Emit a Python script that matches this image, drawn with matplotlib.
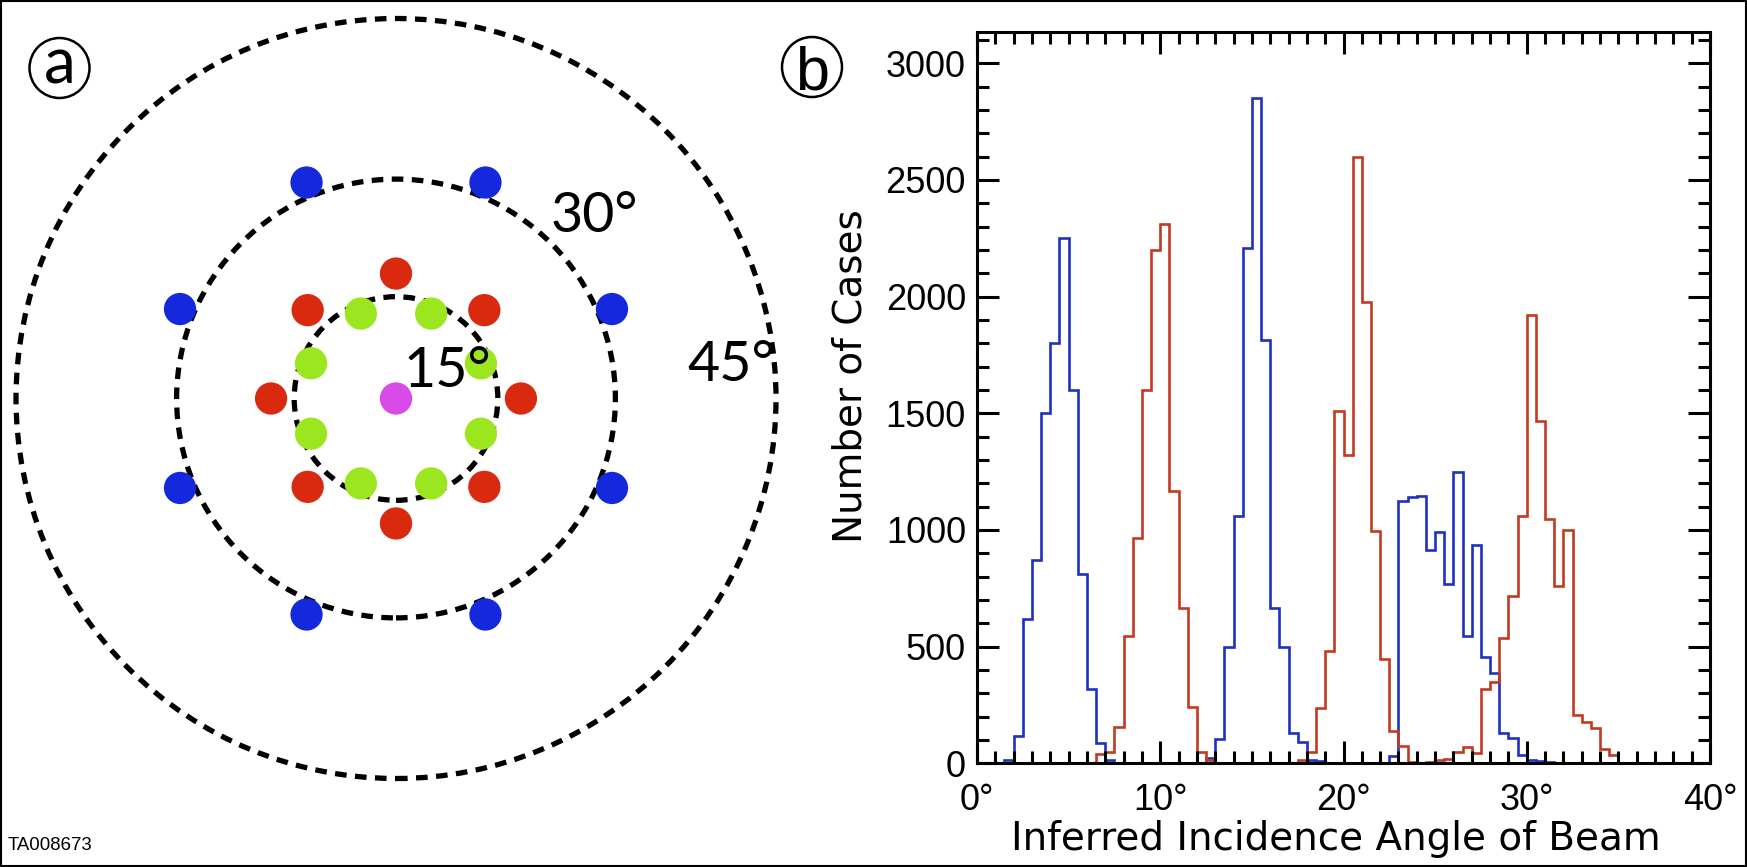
import numpy as np
import matplotlib
matplotlib.use('Agg')
from matplotlib import pyplot as plt
from matplotlib import font_manager
from matplotlib.patches import Circle, Ellipse, Rectangle

# panel b: number of cases per 0.5 deg bin, 0-40 deg
bin_width = 0.5
angle_max = 40
blue_counts = [0, 0, 0, 15, 117, 620, 870, 1500, 1800, 2250,
               1600, 810, 320, 85, 12, 3, 0, 0, 0, 0,
               0, 0, 0, 0, 0, 24, 104, 500, 1060, 2210,
               2850, 1815, 665, 500, 130, 93, 16, 9, 0, 0,
               0, 0, 0, 0, 0, 30, 1125, 1140, 1145, 915,
               990, 770, 1250, 545, 935, 455, 385, 131, 107, 36,
               14, 10, 6, 3, 3, 3, 3, 3, 3, 3,
               0, 0, 0, 0, 0, 0, 0, 0, 0, 0]
red_counts = [0, 0, 0, 0, 0, 0, 0, 0, 0, 0,
              0, 0, 0, 40, 50, 157, 545, 965, 1600, 2200,
              2310, 1165, 665, 240, 50, 12, 0, 0, 0, 0,
              0, 0, 0, 0, 0, 16, 50, 236, 480, 1510,
              1320, 2600, 1975, 995, 445, 140, 75, 5, 3, 7,
              12, 17, 50, 70, 45, 320, 350, 535, 715, 1060,
              1920, 1465, 1045, 760, 1000, 205, 175, 150, 60, 35,
              0, 0, 0, 0, 0, 0, 0, 0, 0, 0]
x_ticks = [0, 10, 20, 30, 40]
x_tick_labels = ['0°', '10°', '20°', '30°', '40°']
y_ticks = [0, 500, 1000, 1500, 2000, 2500, 3000]

# panel a: beam layout, radius = tan(zenith angle)
ring_angles = [15, 30, 45]
ring_labels = ['15°', '30°', '45°']
beam_zenith = [0, 13.6, 18.2, 31.6]
beam_azimuth0 = [0, 22.5, 0, 22.5]
beam_number = [1, 8, 8, 8]
beam_colors = ['#d94ae8', '#9be61e', '#d92a10', '#1428dc']

names = {f.name for f in font_manager.fontManager.ttflist}
narrow = 'Liberation Sans Narrow' if 'Liberation Sans Narrow' in names else 'Liberation Sans'

fig = plt.figure(figsize=(17.47, 8.67), dpi=100)
W, H = 1747.0, 867.0

# ---- panel b: histogram
ax = fig.add_axes([977 / W, (H - 763.3) / H, 733 / W, 731.6 / H])
edges = np.arange(0, angle_max + bin_width / 2, bin_width)
ax.stairs(blue_counts, edges, color='#2030c0', lw=1.9, baseline=0)
ax.stairs(red_counts, edges, color='#c23a22', lw=1.9, baseline=0)
ax.set_xlim(0, angle_max)
ax.set_ylim(0, 3135)
ax.set_xticks(x_ticks)
ax.set_xticklabels(x_tick_labels)
ax.set_xticks(np.arange(0, angle_max + 1, 1), minor=True)
ax.set_yticks(y_ticks)
ax.set_yticks(np.arange(0, 3101, 100), minor=True)
ax.tick_params(which='both', direction='in', top=True, right=True, width=2.2)
ax.tick_params(which='major', length=16, labelsize=26)
ax.tick_params(which='minor', length=8.5)
ax.tick_params(axis='y', pad=8)
ax.tick_params(axis='x', pad=14)
for lab in ax.get_xticklabels() + ax.get_yticklabels():
    lab.set_family('Liberation Sans')
for s in ax.spines.values():
    s.set_linewidth(2.2)
ax.set_xlabel('Inferred Incidence Angle of Beam', fontsize=28, family='DejaVu Sans')
ax.xaxis.set_label_coords(0.49, -0.078)
ax.set_ylabel('Number of Cases', fontsize=28, family='DejaVu Sans', va='center')
ax.yaxis.set_label_coords(-0.173, 0.529)

# ---- panel a: beam pattern
R = 380.0
cx, cy = 396.0, 398.5
span = 1.03
ax2 = fig.add_axes([(cx - span * R) / W, (H - cy - span * R) / H, 2 * span * R / W, 2 * span * R / H])
ax2.set_xlim(-span, span)
ax2.set_ylim(-span, span)
ax2.set_aspect('equal')
ax2.axis('off')
for ang in ring_angles:
    ax2.add_patch(Circle((0, 0), np.tan(np.radians(ang)), fill=False, color='black',
                         lw=3.8, ls=(0, (2.2, 1.6)), zorder=1))
for zen, az0, n, col in zip(beam_zenith, beam_azimuth0, beam_number, beam_colors):
    r = np.tan(np.radians(zen))
    az = np.radians(az0 + 360.0 / n * np.arange(n))
    ax2.scatter(r * np.cos(az), r * np.sin(az), s=540, color=col, edgecolors='none', zorder=2)

label_font = ['Lato', 'DejaVu Sans']
ring_label_pos = [(0.021, 0.07), (0.408, 0.478), (0.766, 0.088)]
for txt, (lx, ly) in zip(ring_labels, ring_label_pos):
    ax2.text(lx, ly, txt, fontsize=40, family=label_font, ha='left', va='center', zorder=3)

# circled panel letters
for letter, (px, py), fam, size in [('a', (59.5, 68), label_font, 46),
                                      ('b', (812, 67), ['Liberation Sans'], 44)]:
    fig.patches.append(Ellipse((px / W, 1 - py / H), 60 / W, 60 / H, fill=False,
                               color='black', lw=1.8, transform=fig.transFigure))
    fig.text(px / W, 1 - (py + 15.5) / H if letter == 'a' else 1 - (py + 23) / H,
             letter, fontsize=size, family=fam, ha='center', va='baseline')

fig.text(8 / W, (H - 850) / H, 'TA008673', fontsize=17 if narrow != 'Liberation Sans' else 13.4,
         family=narrow, ha='left', va='baseline')

# frame around the figure
fig.patches.append(Rectangle((0.0006, 0.0012), 0.9988, 0.9976, fill=False, color='black',
                             lw=1.5, transform=fig.transFigure))

fig.savefig('out.png', dpi=100)
